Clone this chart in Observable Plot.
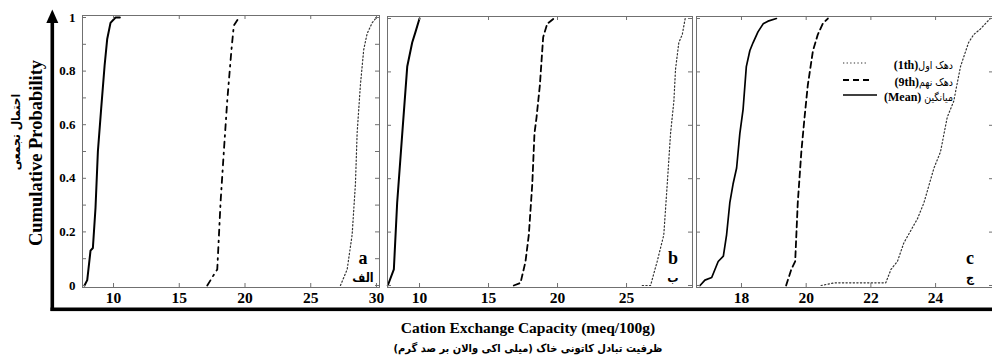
<!DOCTYPE html>
<html><head><meta charset="utf-8">
<script src="https://cdn.jsdelivr.net/npm/d3@7"></script>
<script src="https://cdn.jsdelivr.net/npm/@observablehq/plot@0.6"></script>
<style>
body{margin:0;background:#fff;}
#wrap{position:relative;width:992px;height:360px;overflow:hidden;background:#fff;}
#wrap > svg{position:absolute;top:0;max-width:none;background:transparent;overflow:visible;}
</style></head><body><div id="wrap"></div>
<script>
// ---------- data ----------
const panelLetters = ["a", "b", "c"];
const panelPersian = ["الف", "ب", "ج"];
const seriesNames = ["دهک اول(1th)", "دهک نهم(9th)", "میانگین (Mean)"];

const xTicksA = [10, 15, 20, 25, 30];
const xTicksB = [10, 15, 20, 25];
const xTicksC = [18, 20, 22, 24];
const yTickLabels = [0, 0.2, 0.4, 0.6, 0.8, 1];
const yTicksFine = [0, 0.1, 0.2, 0.3, 0.4, 0.5, 0.6, 0.7, 0.8, 0.9, 1];

// panel a
const aMeanCEC = [7.79, 8.0, 8.25, 8.43, 8.63, 8.81, 9.06, 9.32, 9.52, 9.77, 10.15, 10.48];
const aMeanProb = [0, 0.02, 0.13, 0.14, 0.29, 0.50, 0.66, 0.82, 0.92, 0.98, 1, 1];
const a9thCEC = [17.13, 17.63, 17.89, 18.14, 18.39, 18.65, 18.97, 19.15, 19.41, 19.66];
const a9thProb = [0, 0.04, 0.06, 0.31, 0.50, 0.69, 0.88, 0.97, 0.99, 1];
const a1stCEC = [27.26, 27.77, 28.15, 28.40, 28.53, 28.78, 29.03, 29.29, 29.67, 30.0];
const a1stProb = [0, 0.06, 0.19, 0.38, 0.57, 0.75, 0.88, 0.94, 0.98, 1];

// panel b
const bMeanCEC = [7.70, 8.14, 8.38, 8.75, 9.11, 9.47, 9.71, 10.0];
const bMeanProb = [0, 0.06, 0.31, 0.57, 0.82, 0.91, 0.95, 1];
const b9thCEC = [16.83, 17.32, 17.68, 17.92, 18.17, 18.33, 18.48, 18.72, 18.96, 19.25, 19.73];
const b9thProb = [0, 0.01, 0.09, 0.19, 0.38, 0.57, 0.63, 0.75, 0.93, 0.98, 1];
const b1stCEC = [26.14, 26.74, 27.22, 27.70, 27.95, 28.19, 28.43, 28.55, 28.79, 29.04, 29.25];
const b1stProb = [0, 0, 0.09, 0.19, 0.38, 0.57, 0.69, 0.81, 0.91, 0.94, 1];

// panel c
const cMeanCEC = [16.72, 16.87, 17.08, 17.18, 17.28, 17.44, 17.54, 17.64, 17.74, 17.85, 17.95, 18.05, 18.15, 18.26, 18.36, 18.51, 18.67, 18.82, 19.08];
const cMeanProb = [0, 0.02, 0.03, 0.06, 0.09, 0.11, 0.19, 0.31, 0.38, 0.44, 0.57, 0.66, 0.82, 0.88, 0.91, 0.95, 0.98, 0.99, 1];
const c9thCEC = [19.38, 19.54, 19.66, 19.74, 19.85, 19.95, 20.05, 20.21, 20.36, 20.51, 20.67];
const c9thProb = [0, 0.06, 0.09, 0.31, 0.50, 0.63, 0.75, 0.88, 0.94, 0.98, 1];
const c1stCEC = [20.46, 20.87, 22.46, 22.62, 22.82, 23.02, 23.44, 23.64, 23.95, 24.15, 24.36, 24.56, 24.77, 25.02, 25.18, 25.38, 25.69];
const c1stProb = [0, 0.01, 0.01, 0.06, 0.09, 0.16, 0.25, 0.31, 0.44, 0.50, 0.63, 0.69, 0.82, 0.91, 0.94, 0.96, 1];

// ---------- drawing ----------
const SERIF = "'Liberation Serif','Times New Roman','DejaVu Sans',serif";
const ARABIC = "'DejaVu Sans Condensed','DejaVu Sans',sans-serif";
const FRAME = "#707070";
const H = 310, MB = 23;
const yDomain = [-0.0075, 1.0075];

const styleMean = {stroke: "#000", strokeWidth: 2};
const styleDashDot = {stroke: "#000", strokeWidth: 1.8, strokeDasharray: "6,5,1.6,5"};
const styleDash = {stroke: "#000", strokeWidth: 1.8, strokeDasharray: "6,4"};
const styleDot = {stroke: "#333", strokeWidth: 1.2, strokeDasharray: "1.3,2.3"};

function makePanel(cfg) {
  const innerH = H - cfg.mT - MB;
  const innerW = cfg.width - cfg.mL - cfg.mR;
  const marks = [];
  for (const s of cfg.series) {
    marks.push(Plot.line(d3.zip(s.x, s.p), {x: d => d[0], y: d => d[1], ...s.style}));
  }
  marks.push(Plot.frame({stroke: FRAME, strokeWidth: 1}));
  marks.push(Plot.tickX(cfg.xTicks, {x: d => d, insetTop: innerH - 4, stroke: FRAME}));
  marks.push(Plot.tickX(cfg.xTicks, {x: d => d, insetBottom: innerH - 4, stroke: FRAME}));
  marks.push(Plot.tickY(cfg.yTicks, {y: d => d, insetRight: innerW - 4, stroke: FRAME}));
  marks.push(Plot.tickY(cfg.yTicks, {y: d => d, insetLeft: innerW - 4, stroke: FRAME}));
  marks.push(Plot.axisX(cfg.xTicks, {tickSize: 0, tickPadding: 4, label: null, fontSize: 15.5, fontWeight: "bold", fontFamily: SERIF, fill: "#000"}));
  if (cfg.yLabels) {
    marks.push(Plot.axisY(yTickLabels, {tickSize: 0, tickPadding: 7, label: null, tickFormat: d => String(d), fontSize: 13, fontWeight: "bold", fontFamily: SERIF, fill: "#000"}));
  }
  const svg = Plot.plot({
    width: cfg.width, height: H,
    marginLeft: cfg.mL, marginRight: cfg.mR, marginTop: cfg.mT, marginBottom: MB,
    x: {domain: cfg.xDomain},
    y: {domain: yDomain, axis: cfg.yLabels ? undefined : null},
    style: {background: "transparent", overflow: "visible"},
    marks
  });
  svg.style.left = cfg.left + "px";
  document.getElementById("wrap").appendChild(svg);
}

makePanel({left: 0, width: 381, mL: 82, mR: 2, mT: 15, xDomain: [7.64, 30.23], xTicks: xTicksA, yTicks: yTicksFine, yLabels: true,
  series: [
    {x: aMeanCEC, p: aMeanProb, style: styleMean},
    {x: a9thCEC, p: a9thProb, style: styleDashDot},
    {x: a1stCEC, p: a1stProb, style: styleDot}
  ]});
makePanel({left: 383, width: 311, mL: 4, mR: 2, mT: 16, xDomain: [7.68, 29.78], xTicks: xTicksB, yTicks: yTickLabels, yLabels: false,
  series: [
    {x: bMeanCEC, p: bMeanProb, style: styleMean},
    {x: b9thCEC, p: b9thProb, style: styleDash},
    {x: b1stCEC, p: b1stProb, style: styleDot}
  ]});
makePanel({left: 692, width: 301, mL: 4, mR: 0, mT: 16, xDomain: [16.61, 25.79], xTicks: xTicksC, yTicks: yTickLabels, yLabels: false,
  series: [
    {x: cMeanCEC, p: cMeanProb, style: {...styleMean, strokeWidth: 1.7}},
    {x: c9thCEC, p: c9thProb, style: styleDash},
    {x: c1stCEC, p: c1stProb, style: styleDot}
  ]});

// ---------- overlay: axis arrows, titles, legend, panel letters ----------
const ov = d3.select("#wrap").append("svg")
  .attr("width", 992).attr("height", 360)
  .style("left", "0px").style("pointer-events", "none");

ov.append("rect").attr("x", 50.5).attr("y", 20).attr("width", 3.6).attr("height", 291).attr("fill", "#000");
ov.append("path").attr("d", "M46.3,23 L52.3,9.5 L58.3,23 Z").attr("fill", "#000");
ov.append("rect").attr("x", 50.5).attr("y", 307.5).attr("width", 942).attr("height", 3.6).attr("fill", "#000");

ov.append("text").text("Cumulative Probability")
  .attr("transform", "translate(42,153) rotate(-90)")
  .attr("text-anchor", "middle").attr("font-family", SERIF).attr("font-weight", "bold").attr("font-size", 18.5);
ov.append("text").text("احتمال تجمعی")
  .attr("transform", "translate(20,132) rotate(-90)")
  .attr("text-anchor", "middle").attr("font-family", ARABIC).attr("font-weight", "bold").attr("font-size", 12);

ov.append("text").text("Cation Exchange Capacity (meq/100g)")
  .attr("x", 528).attr("y", 333)
  .attr("text-anchor", "middle").attr("font-family", SERIF).attr("font-weight", "bold").attr("font-size", 15.5);
ov.append("text").text("\u202Bظرفیت تبادل کاتونی خاک (میلی اکی والان بر صد گرم)\u202C")
  .attr("x", 528).attr("y", 352)
  .attr("text-anchor", "middle").attr("font-family", ARABIC).attr("font-weight", "bold").attr("font-size", 11);

// panel letters
const letterX = [363, 673, 970];
panelLetters.forEach((l, i) => {
  ov.append("text").text(l).attr("x", letterX[i]).attr("y", 264)
    .attr("text-anchor", "middle").attr("font-family", SERIF).attr("font-weight", "bold").attr("font-size", 18);
  ov.append("text").text(panelPersian[i]).attr("x", letterX[i]).attr("y", 282)
    .attr("text-anchor", "middle").attr("font-family", ARABIC).attr("font-weight", "bold").attr("font-size", 12.5);
});

// legend
const legendStyles = [styleDot, styleDash, styleMean];
const legendY = [63, 80, 95];
const legendX2 = [867, 872, 877];
seriesNames.forEach((name, i) => {
  const st = legendStyles[i];
  ov.append("line").attr("x1", 843).attr("x2", legendX2[i]).attr("y1", legendY[i]).attr("y2", legendY[i])
    .attr("stroke", st.stroke).attr("stroke-width", i === 2 ? 1.5 : st.strokeWidth)
    .attr("stroke-dasharray", st.strokeDasharray || null);
  const m = name.match(/^(.*?)(\(.*\))$/);
  const t = ov.append("text").attr("x", 953).attr("y", legendY[i]).attr("dy", "0.35em")
    .attr("text-anchor", "end");
  t.append("tspan").text("\u202B" + m[1]).attr("font-family", ARABIC).attr("font-size", 10.5);
  t.append("tspan").text(m[2] + "\u202C").attr("font-family", SERIF).attr("font-weight", "bold").attr("font-size", 12);
});
</script></body></html>
